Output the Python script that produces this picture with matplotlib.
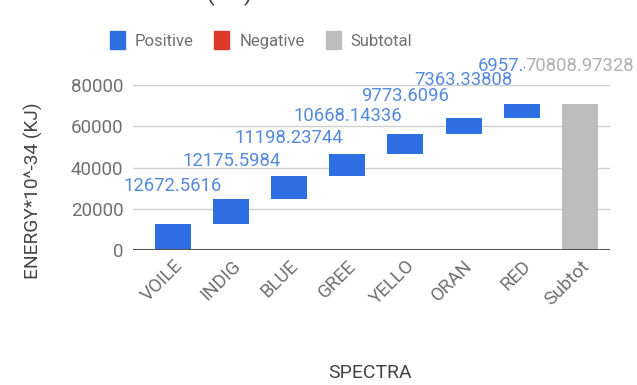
import matplotlib
matplotlib.use('Agg')
import matplotlib.pyplot as plt
from matplotlib.patches import Patch

plt.rcParams['font.family'] = ['Roboto', 'DejaVu Sans']

# data
spectra = ['VOILE', 'INDIG', 'BLUE', 'GREE', 'YELLO', 'ORAN', 'RED']
energy  = [12672.5616, 12175.5984, 11198.23744, 10668.14336, 9773.6096, 7363.33808, 6957.4848]
subtotal_label = 'Subtot'
subtotal_text  = '70808.97328'

BLUE  = '#2f6fe4'
RED   = '#dc3b2c'
GREY  = '#bdbdbd'
LABEL_BLUE = '#5589dc'
TXT   = '#707070'

fig = plt.figure(figsize=(6.37, 3.85), dpi=100)
ax  = fig.add_axes([0.2088, 0.3506, 0.7488, 0.4286])

# waterfall bars
bottoms = []
run = 0.0
for v in energy:
    bottoms.append(run)
    run += v
total = run

x = list(range(len(spectra)))
ax.bar(x, energy, bottom=bottoms, width=0.62, color=BLUE, zorder=3)
ax.bar(len(spectra), total, width=0.62, color=GREY, zorder=3)

# value labels above each bar
for i, (b, v) in enumerate(zip(bottoms, energy)):
    ax.annotate(f'{v:.10g}', (i, b + v), xytext=(0, 38), textcoords='offset pixels',
                ha='center', va='center', fontsize=13.3, color=LABEL_BLUE,
                annotation_clip=False, zorder=5)
ax.annotate(subtotal_text, (len(spectra), total), xytext=(0, 38), textcoords='offset pixels',
            ha='center', va='center', fontsize=13.3, color='#b0b0b0',
            annotation_clip=False, zorder=6,
            bbox=dict(boxstyle='square,pad=0.05', fc='white', ec='none'))

ax.set_xlim(-0.69, len(spectra) + 0.52)
ax.set_ylim(0, 80000)
ax.set_yticks([0, 20000, 40000, 60000, 80000])
ax.set_yticklabels(['0', '20000', '40000', '60000', '80000'])
ax.set_xticks(list(range(len(spectra) + 1)))
ax.set_xticklabels(spectra + [subtotal_label], rotation=45, ha='right',
                   rotation_mode='anchor')

ax.grid(axis='y', color='#d0d0d0', linewidth=1, zorder=0)
ax.axhline(0, color='#555555', linewidth=1.5, zorder=4)
for s in ax.spines.values():
    s.set_visible(False)
ax.tick_params(axis='both', length=0, labelsize=13.5, colors=TXT)
ax.tick_params(axis='y', pad=7)
ax.tick_params(axis='x', pad=5)

fig.text(33 / 637, 1 - 191 / 385, 'ENERGY*10^-34 (KJ)', rotation=90, ha='center', va='center',
         fontsize=13.8, color='#444444')
fig.text(370 / 637, 1 - 373 / 385, 'SPECTRA', ha='center', va='center',
         fontsize=14, color='#444444')

# title mostly cut off at the top edge
fig.text(0.335, 1 - 6 / 385, 'ENERGY*10^-34 (KJ) vs. SPECTRA', ha='center', va='bottom',
         fontsize=18, color='#444444')

handles = [Patch(color=BLUE, label='Positive'),
           Patch(color=RED, label='Negative'),
           Patch(color=GREY, label='Subtotal')]
fig.legend(handles=handles, loc='center', bbox_to_anchor=(261 / 637, 1 - 40 / 385), ncol=3,
           frameon=False, fontsize=12, handlelength=0.9, handleheight=1.2,
           handletextpad=0.6, columnspacing=1.25, labelcolor=TXT)

fig.savefig('out.png', dpi=100)
